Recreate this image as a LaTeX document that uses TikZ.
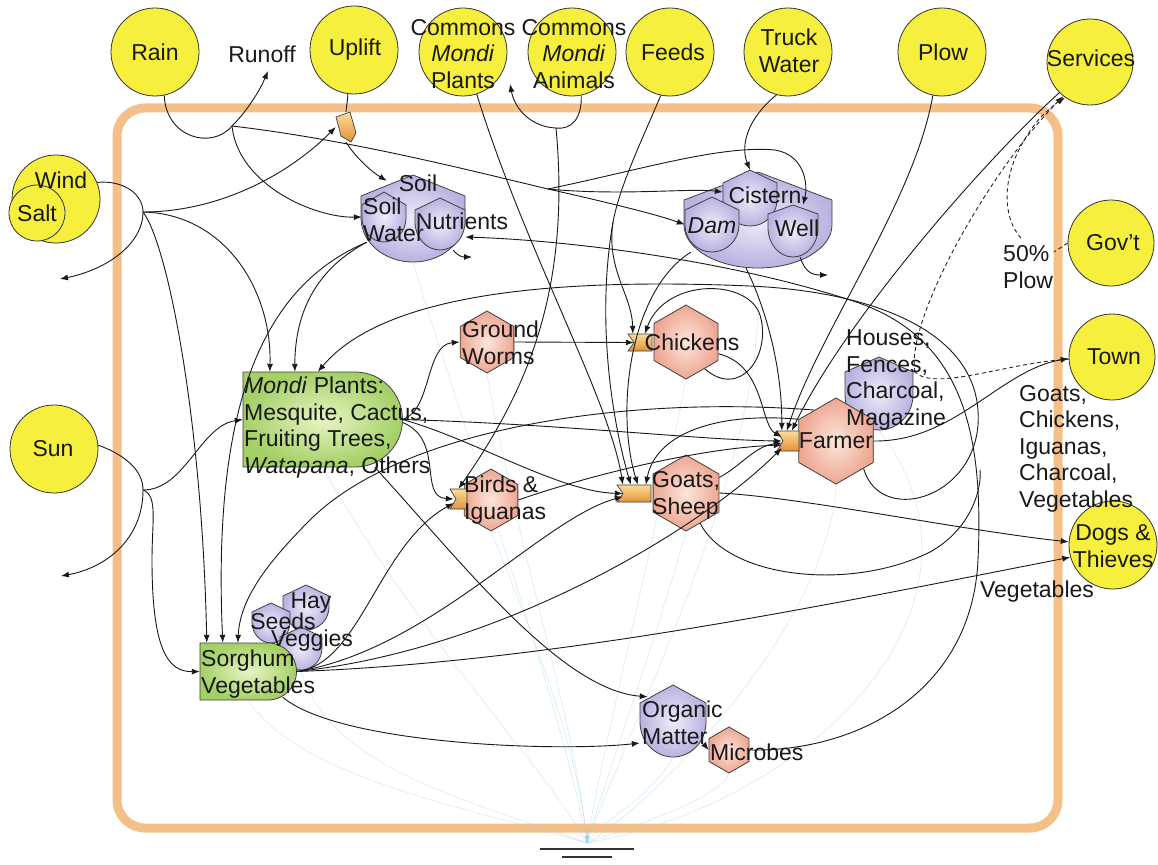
\documentclass[tikz,border=0pt]{standalone}
\usepackage{fontspec}
\setmainfont{Liberation Sans}
\usetikzlibrary{arrows.meta,shapes.geometric,fit}
\pgfdeclarelayer{bg}
\pgfsetlayers{bg,main}

\definecolor{srcyellow}{RGB}{246,239,62}
\definecolor{frameorange}{RGB}{245,192,136}
\definecolor{tankin}{RGB}{238,236,250}
\definecolor{tankout}{RGB}{184,178,224}
\definecolor{hexin}{RGB}{252,230,220}
\definecolor{hexout}{RGB}{238,166,146}
\definecolor{plantin}{RGB}{232,244,196}
\definecolor{plantout}{RGB}{164,208,102}
\definecolor{gatetop}{RGB}{250,220,150}
\definecolor{gatebot}{RGB}{228,146,56}
\definecolor{sinkblue}{RGB}{150,205,236}

\tikzset{
  src/.style={circle, draw=black!80, line width=0.8pt, fill=srcyellow, minimum size=88pt, inner sep=0},
  txt/.style={font=\fontsize{23}{26.5}\selectfont, inner sep=0, text=black!90},
  mtxt/.style={txt, align=left},
  ctxt/.style={txt, align=center},
  flow/.style={draw=black!90, line width=0.9pt},
  arr/.style={-{Latex[length=8pt,width=6pt]}},
  fa/.style={flow, arr},
  money/.style={draw=black!85, line width=0.9pt, dash pattern=on 4pt off 3pt},
  sink/.style={draw=sinkblue, line width=0.5pt, draw opacity=0.45},
  hexa/.style={regular polygon, regular polygon sides=6, shape border rotate=30,
    draw=black!75, line width=0.8pt, shading=radial, inner color=hexin, outer color=hexout, inner sep=0},
  tankst/.style={draw=black!75, line width=0.8pt, shading=radial, inner color=tankin, outer color=tankout},
  plantst/.style={draw=black!75, line width=0.8pt, shading=radial, inner color=plantin, outer color=plantout},
  gatest/.style={draw=black!75, line width=0.7pt, top color=gatetop, bottom color=gatebot},
}

% storage tank: name, centre x, peak y, shoulder y, side-bottom y, bottom y, half width
\newcommand\tank[7]{%
  \draw[tankst] ({#2-#7},#4) -- (#2,#3) -- ({#2+#7},#4) -- ({#2+#7},#5)
    .. controls ({#2+#7},{#5+0.552*(#6-#5)}) and ({#2+0.552*#7},#6) .. (#2,#6)
    .. controls ({#2-0.552*#7},#6) and ({#2-#7},{#5+0.552*(#6-#5)}) .. ({#2-#7},#5) -- cycle;
  \node[fit={({#2-#7},#3) ({#2+#7},#6)}, inner sep=0] (#1) {};}

% producer: name, left, top, end of straight part, bottom
\newcommand\plantbox[5]{%
  \pgfmathsetmacro\plR{(#5-#3)/2}
  \pgfmathsetmacro\plC{(#5+#3)/2}
  \draw[plantst] (#2,#3) -- (#4,#3)
    .. controls ({#4+0.552*\plR},#3) and ({#4+\plR},{\plC-0.552*\plR}) .. ({#4+\plR},\plC)
    .. controls ({#4+\plR},{\plC+0.552*\plR}) and ({#4+0.552*\plR},#5) .. (#4,#5)
    -- (#2,#5) -- cycle;
  \node[fit={(#2,#3) ({#4+\plR},#5)}, inner sep=0] (#1) {};}

% work gate: name, left, right, top, bottom
\newcommand\gatebox[5]{%
  \draw[gatest] (#2,#4) -- (#3,#4) -- (#3,#5) -- (#2,#5) -- ({#2+6},{(#4+#5)/2}) -- cycle;
  \node[fit={(#2,#4) (#3,#5)}, inner sep=0] (#1) {};}

\begin{document}
\begin{tikzpicture}[x=1pt,y=-1pt]
\useasboundingbox (0,0) rectangle (1158,864);

% ---------- sources ----------
\node[src] (rain) at (155,52) {};
\node[src] (uplift) at (354,50) {};
\node[src] (cplants) at (463,52) {};
\node[src] (canimals) at (572,52) {};
\node[src] (feeds) at (670,52) {};
\node[src] (truck) at (788,52) {};
\node[src] (plow) at (942,52) {};
\node[src, minimum size=86pt] (services) at (1090,62) {};
\node[src, minimum size=86pt] (govt) at (1111,243) {};
\node[src, minimum size=86pt] (town) at (1112,357) {};
\node[src] (dogs) at (1113,545) {};
\node[src] (sun) at (54,449) {};
\node[src] (wind) at (56,199) {};
\node[src, minimum size=56pt] (salt) at (37,213) {};

% ---------- storages ----------
\tank{soil}{413}{175}{196}{218}{262}{52}
\tank{soilw}{384}{192}{205}{218}{242}{22}
\tank{nutr}{440}{198}{210}{222}{250}{25}
\tank{water}{758}{172}{200}{225}{268}{74}
\tank{cistern}{750}{170}{183}{200}{226}{27}
\tank{dam}{712}{197}{210}{225}{252}{27}
\tank{well}{793}{205}{214}{228}{257}{25}
\tank{houses}{879}{357}{372}{395}{430}{34}
\tank{organic}{673}{685}{703}{722}{757}{33}
\tank{hay}{306}{585}{596}{607}{630}{23}
\tank{seeds}{271}{603}{612}{622}{643}{19}
\tank{veggies}{301}{627}{637}{648}{670}{21}

% ---------- producers ----------
\plantbox{mondi}{243}{372}{355}{467}
\plantbox{sorghum}{200}{643}{268}{700}

% ---------- consumers ----------
\node[hexa, minimum size=62pt] (worms) at (487,342) {};
\node[hexa, minimum size=74pt] (chickens) at (686,342) {};
\node[hexa, minimum size=62pt] (birds) at (491,500) {};
\node[hexa, minimum size=76pt] (goats) at (686,493) {};
\node[hexa, minimum size=86pt] (farmer) at (836,441) {};
\node[hexa, minimum size=46pt] (microbes) at (729,750) {};

% ---------- work gates ----------
\draw[gatest] (336,117) -- (350,112) -- (356,133) -- (351,142) -- (341,136) -- cycle;
\node[fit={(336,112) (356,142)}, inner sep=0] (upgate) {};
\gatebox{cgate}{628}{652}{334}{351}
\gatebox{bgate}{450}{467}{489}{509}
\gatebox{ggate}{617}{651}{485}{502}
\gatebox{fgate}{777}{799}{431}{451}

% ---------- free ends and splits ----------
\coordinate (runoff) at (268,71);
\coordinate (harvest) at (510,84);
\coordinate (windout) at (60,279);
\coordinate (sunout) at (61,576);
\coordinate (nutrout) at (472,257);
\coordinate (wellout) at (828,275);
\coordinate (rs) at (232,126);
\coordinate (rs2) at (548,189);
\coordinate (ws) at (143,212);
\coordinate (ss) at (143,490);
\coordinate (cas) at (556,128);
\coordinate (fs) at (613,222);
\coordinate (mj) at (915,372);
\coordinate (pct) at (1021,238);
\coordinate (ground) at (587,843);

% ---------- background, boundary and heat sinks ----------
\begin{pgfonlayer}{bg}
\fill[white] (0,0) rectangle (1158,864);
\draw[frameorange, line width=9pt, rounded corners=28pt] (117,108) rectangle (1058,828);
\draw[sink] (mondi.south) .. controls (420,640) and (540,760) .. (ground);
\draw[sink] (sorghum.south) .. controls (300,780) and (480,810) .. (ground);
\draw[sink] (veggies.south) .. controls (330,770) and (470,800) .. (ground);
\draw[sink] (soil.south) .. controls (470,450) and (560,700) .. (ground);
\draw[sink] (worms.south) .. controls (520,560) and (575,720) .. (ground);
\draw[sink] (birds.south) .. controls (540,650) and (580,760) .. (ground);
\draw[sink] (chickens.south) .. controls (650,560) and (600,760) .. (ground);
\draw[sink] (goats.south) .. controls (650,660) and (605,780) .. (ground);
\draw[sink] (water.south) .. controls (770,450) and (640,700) .. (ground);
\draw[sink] (farmer.south) .. controls (830,620) and (660,800) .. (ground);
\draw[sink] (houses.south) .. controls (1010,600) and (820,800) .. (ground);
\draw[sink] (organic.south) .. controls (650,800) and (600,820) .. (ground);
\draw[sink] (microbes.south) .. controls (720,800) and (620,830) .. (ground);
\end{pgfonlayer}
\draw[sinkblue, line width=0.9pt, -{Latex[length=7pt,width=5pt]}] ([yshift=14pt]ground) -- (ground);
\draw[black!80, line width=1.6pt] (540,849) -- (634,849);
\draw[black!80, line width=1.6pt] (562,857) -- (612,857);

% ---------- rain ----------
\draw[flow] (rain.-78) .. controls (166,138) and (212,150) .. (rs);
\draw[fa] (rs) .. controls (248,110) and (260,90) .. (runoff);
\draw[fa] (rs) .. controls (238,185) and (315,218) .. (soilw.west);
\draw[flow] (rs) .. controls (350,140) and (460,168) .. (rs2);
\draw[fa] (rs2) .. controls (610,203) and (655,214) .. (dam.west);
\draw[fa] (rs2) .. controls (620,196) and (690,188) .. ([yshift=6pt]cistern.west);
\draw[fa] (rs2) .. controls (640,170) and (720,145) .. (775,150) .. controls (805,155) and (808,185) .. ([xshift=10pt]well.north);
\draw[fa] (truck.-105) .. controls (748,118) and (740,145) .. (cistern.north);

% ---------- uplift and wind ----------
\draw[flow] (uplift.-98) .. controls (348,100) and (346,108) .. (upgate.north);
\draw[fa] (upgate.south) .. controls (356,158) and (372,172) .. ([xshift=26pt,yshift=-6pt]soil.north west);
\draw[flow] (wind.22) .. controls (125,180) and (143,195) .. (ws);
\draw[fa] (ws) .. controls (143,245) and (105,270) .. (windout);
\draw[fa] (ws) .. controls (215,212) and (285,178) .. (upgate.west);
\draw[fa] (ws) .. controls (168,245) and (202,420) .. ([xshift=7pt]sorghum.north west);
\draw[fa] (ws) .. controls (225,214) and (272,290) .. ([xshift=27pt]mondi.north west);

% ---------- soil water ----------
\draw[fa] ([xshift=5pt]soilw.south west) .. controls (318,268) and (295,310) .. ([xshift=52pt]mondi.north west);
\draw[fa] ([xshift=5pt]soilw.south west) .. controls (265,285) and (212,400) .. ([xshift=23pt]sorghum.north west);
\draw[fa] ([xshift=-12pt]nutr.south east) .. controls (458,256) and (462,257) .. (nutrout);
\draw[fa] ([xshift=-18pt]well.south east) .. controls (805,272) and (812,275) .. (wellout);

% ---------- sun ----------
\draw[flow] (sun.5) .. controls (125,455) and (143,470) .. (ss);
\draw[fa] (ss) .. controls (185,490) and (200,426) .. (mondi.west);
\draw[fa] (ss) .. controls (143,540) and (105,568) .. (sunout);
\draw[fa] (ss) .. controls (158,496) and (152,520) .. (152,560) .. controls (152,650) and (168,672) .. (sorghum.west);

% ---------- commons and feeds ----------
\draw[fa] (cplants.-72) .. controls (525,250) and (610,400) .. ([xshift=6pt]ggate.north west);
\draw[flow] (canimals.-78) .. controls (582,118) and (572,130) .. (cas);
\draw[fa] (cas) .. controls (532,127) and (515,110) .. (harvest);
\draw[fa] (cas) .. controls (572,300) and (520,400) .. (bgate.north);
\draw[flow] (feeds.-102) .. controls (642,140) and (620,185) .. (fs);
\draw[fa] (fs) .. controls (606,270) and (632,295) .. ([xshift=5pt]cgate.north west);
\draw[fa] (fs) .. controls (596,320) and (612,420) .. ([xshift=14pt]ggate.north west);
\draw[fa] ([xshift=6pt]dam.south west) .. controls (630,290) and (615,410) .. ([xshift=21pt]ggate.north west);
\draw[fa] ([xshift=-12pt]water.south) .. controls (762,300) and (782,360) .. ([xshift=5pt]fgate.north west);

% ---------- plow and services ----------
\draw[fa] (plow.-102) .. controls (915,200) and (820,330) .. ([xshift=10pt]fgate.north west);
\draw[fa] (services.-135) .. controls (985,160) and (845,320) .. ([xshift=15pt]fgate.north west);

% ---------- food web ----------
\draw[fa] (worms.east) -- ([xshift=6pt]cgate.west);
\draw[fa] (mondi.east) .. controls (432,410) and (425,345) .. (worms.west);
\draw[fa] ([yshift=-3pt]mondi.east) .. controls (445,440) and (418,497) .. ([xshift=4pt]bgate.west);
\draw[fa] (mondi.east) .. controls (475,440) and (560,492) .. ([xshift=6pt]ggate.west);
\draw[fa] (mondi.east) .. controls (560,424) and (700,440) .. ([xshift=5pt]fgate.west);
\draw[fa] ([xshift=-28pt]mondi.south east) .. controls (460,560) and (560,690) .. ([xshift=8pt,yshift=-12pt]organic.north west);
\draw[fa] (birds.east) .. controls (590,475) and (700,448) .. ([xshift=5pt,yshift=-4pt]fgate.west);
\draw[fa] (chickens.-20) .. controls (765,365) and (760,425) .. ([xshift=5pt,yshift=4pt]fgate.west);
\draw[fa] (chickens.-55) .. controls (740,400) and (772,355) .. (760,315) .. controls (748,278) and (665,278) .. ([xshift=17pt]cgate.north west);
\draw[fa] (goats.25) .. controls (742,465) and (755,446) .. ([xshift=5pt,yshift=-2pt]fgate.west);
\draw[fa] (goats.east) .. controls (800,497) and (960,530) .. (dogs.176);
\draw[fa] (farmer.150) .. controls (720,412) and (656,432) .. ([xshift=29pt]ggate.north west);
\draw[fa] (farmer.east) .. controls (955,442) and (1000,370) .. (town.182);
\draw[fa] (sorghum.east) .. controls (360,665) and (378,545) .. ([xshift=4pt,yshift=-4pt]bgate.west);
\draw[fa] (sorghum.east) .. controls (430,650) and (540,520) .. ([xshift=6pt,yshift=-3pt]ggate.west);
\draw[fa] (sorghum.east) .. controls (500,650) and (700,530) .. ([xshift=5pt,yshift=-7pt]fgate.west);
\draw[fa] (sorghum.east) .. controls (560,662) and (850,600) .. (dogs.196);
\draw[fa] ([xshift=-14pt,yshift=3pt]sorghum.south east) .. controls (340,745) and (560,752) .. ([yshift=-22pt]organic.west);
\draw[fa] (farmer.125) .. controls (620,395) and (400,430) .. (310,520) .. controls (265,565) and (240,600) .. ([xshift=38pt]sorghum.north west);
\draw[fa] ([yshift=-26pt]organic.east) -- (microbes.west);
\draw[fa] (microbes.east) .. controls (860,752) and (972,690) .. (978,560) .. controls (984,430) and (962,335) .. (850,300) .. controls (720,258) and (560,240) .. ([yshift=-13pt]nutr.east);
\draw[fa] (farmer.-45) .. controls (880,525) and (972,500) .. (978,425) .. controls (984,335) and (880,292) .. (750,286) .. controls (560,278) and (385,292) .. ([xshift=75pt]mondi.north west);
\draw[flow] (goats.-65) .. controls (728,578) and (850,592) .. (930,552) .. controls (970,530) and (982,490) .. (980,470);

% ---------- money ----------
\draw[money] (town.183) .. controls (1010,362) and (935,392) .. (mj);
\draw[money, arr] (mj) .. controls (905,320) and (990,170) .. (services.-128);
\draw[money] (govt.west) -- (1054,252);
\draw[money, arr] (pct) .. controls (1000,215) and (1000,165) .. (1040,118) .. controls (1050,108) and (1058,102) .. (services.-125);

% ---------- labels (multi-line ones are placed by the baseline of their last line) ----------
\node[txt] (rain-l) at (155,52) {Rain};
\node[txt] (runoff-l) at (262,54) {Runoff};
\node[txt] (uplift-l) at (355,50) {Uplift};
\node[ctxt] (cplants-l) at (463,54) {Commons\\\textit{Mondi}\\Plants};
\node[ctxt] (canimals-l) at (574,54) {Commons\\\textit{Mondi}\\Animals};
\node[txt] (feeds-l) at (673,52) {Feeds};
\node[ctxt] (truck-l) at (789,51) {Truck\\Water};
\node[txt] (plow-l) at (943,52) {Plow};
\node[txt] (services-l) at (1091,58) {Services};
\node[txt] (govt-l) at (1113,243) {Gov't};
\node[txt] (town-l) at (1114,357) {Town};
\node[ctxt] (dogs-l) at (1113,546) {Dogs \&\\Thieves};
\node[txt] (sun-l) at (53,449) {Sun};
\node[txt] (wind-l) at (61,180) {Wind};
\node[txt] (salt-l) at (37,213) {Salt};
\node[mtxt, anchor=base west] (pct-l) at (1003,288) {50\%\\Plow};
\node[mtxt, anchor=base west] (mondi-l) at (244,473) {\textit{Mondi} Plants:\\Mesquite, Cactus,\\Fruiting Trees,\\\textit{Watapana}, Others};
\node[mtxt, anchor=base west] (sorghum-l) at (201,693) {Sorghum\\Vegetables};
\node[mtxt, anchor=base west] (houses-l) at (846,425) {Houses,\\Fences,\\Charcoal,\\Magazine};
\node[mtxt, anchor=base west] (sales-l) at (1019,507) {Goats,\\Chickens,\\Iguanas,\\Charcoal,\\Vegetables};
\node[txt] (veg-l) at (1037,592) {Vegetables};
\node[mtxt, anchor=base west] (worms-l) at (462,364) {Ground\\Worms};
\node[mtxt, anchor=base west] (birds-l) at (464,519) {Birds \&\\Iguanas};
\node[mtxt, anchor=base west] (goats-l) at (652,514) {Goats,\\Sheep};
\node[txt] (chickens-l) at (692,342) {Chickens};
\node[txt] (farmer-l) at (836,441) {Farmer};
\node[mtxt, anchor=base west] (organic-l) at (642,744) {Organic\\Matter};
\node[txt, anchor=base west] (microbes-l) at (710,760) {Microbes};
\node[txt] (soil-l) at (418,183) {Soil};
\node[mtxt, anchor=base west] (soilw-l) at (363,241) {Soil\\Water};
\node[txt] (nutr-l) at (462,221) {Nutrients};
\node[txt] (cistern-l) at (765,195) {Cistern};
\node[txt] (dam-l) at (712,226) {\textit{Dam}};
\node[txt] (well-l) at (797,228) {Well};
\node[txt] (hay-l) at (311,603) {Hay};
\node[txt] (seeds-l) at (283,621) {Seeds};
\node[txt] (veggies-l) at (312,641) {Veggies};
\end{tikzpicture}
\end{document}
